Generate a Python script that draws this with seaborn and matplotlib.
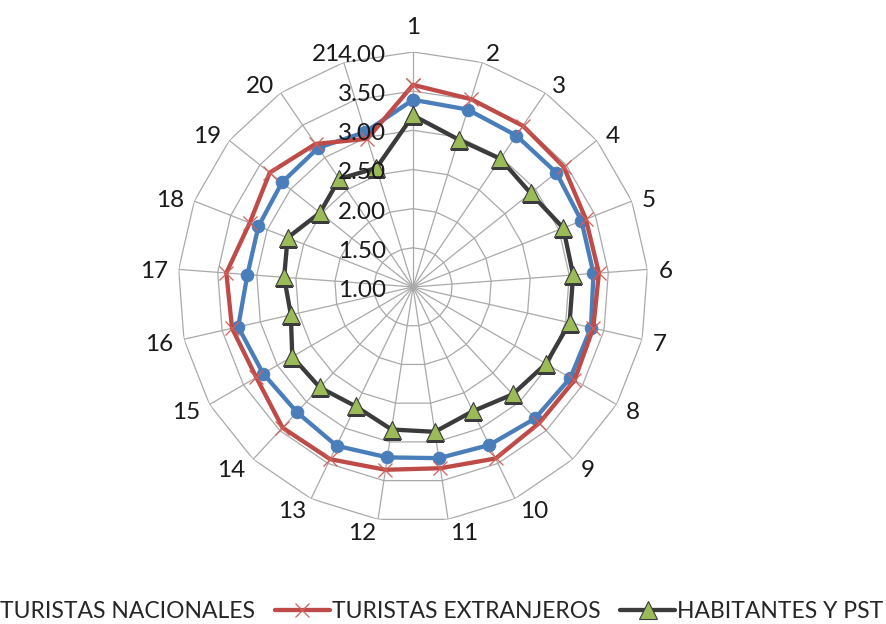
import numpy as np
import pandas as pd
import matplotlib
matplotlib.use("Agg")
import matplotlib.pyplot as plt
import seaborn as sns

categories = [str(i) for i in range(1, 22)]
nacionales = [3.39, 3.37, 3.34, 3.34, 3.31, 3.31, 3.33, 3.32, 3.29, 3.24, 3.21,
              3.20, 3.25, 3.18, 3.21, 3.29, 3.12, 3.12, 3.14, 3.15, 3.07]
extranjeros = [3.58, 3.51, 3.49, 3.46, 3.37, 3.38, 3.36, 3.38, 3.37, 3.43, 3.34,
               3.36, 3.44, 3.45, 3.31, 3.37, 3.39, 3.24, 3.34, 3.21, 2.98]
habitantes = [3.19, 2.97, 2.98, 2.92, 3.06, 3.05, 3.05, 2.96, 2.87, 2.76, 2.87,
              2.84, 2.69, 2.75, 2.78, 2.60, 2.65, 2.72, 2.52, 2.67, 2.59]
series_names = ["TURISTAS NACIONALES", "TURISTAS EXTRANJEROS", "HABITANTES Y PST"]
radial_ticks = [1.0, 1.5, 2.0, 2.5, 3.0, 3.5, 4.0]
radial_labels = ["1.00", "1.50", "2.00", "2.50", "3.00", "3.50", "4.00"]

sns.set_theme(style="white")
plt.rcParams["font.family"] = ["Lato", "DejaVu Sans"]

FS = 17.5
FS_LEG = 16.5
PX = 72 / 100  # pixels -> points
fig = plt.figure(figsize=(8.87, 6.24), dpi=100)
ax = fig.add_axes([0.2007, 0.1635, 0.5299, 0.7532], projection="polar")
ax.set_theta_zero_location("N")
ax.set_theta_direction(-1)
ax.set_ylim(radial_ticks[0], radial_ticks[-1])
ax.grid(False)
ax.spines["polar"].set_visible(False)
ax.set_xticks([])
ax.set_yticks([])
ax.set_facecolor("none")

n = len(categories)
theta = np.linspace(0, 2 * np.pi, n, endpoint=False)
theta_closed = np.append(theta, 2 * np.pi)

grid_color = "#a9a9a9"
for v in radial_ticks[1:]:
    ax.plot(theta_closed, [v] * (n + 1), color=grid_color, lw=0.9, zorder=0)
for t in theta:
    ax.plot([t, t], [radial_ticks[0], radial_ticks[-1]], color=grid_color, lw=0.9, zorder=0)

def closed(vals):
    return list(vals) + [vals[0]]

styles = [
    dict(color="#4a7ebb", marker="o", markersize=9, markeredgecolor="#4a7ebb", lw=3.1),
    dict(color="#be4b48", marker="x", markersize=10, markeredgewidth=0.9,
         markeredgecolor="#d0605c", lw=3.1),
    dict(color="#3b3b3b", marker="^", markersize=12.5, markerfacecolor="#9bbb59",
         markeredgecolor="#3b3b3b", markeredgewidth=0.8, lw=3.1),
]
for name, vals, st in zip(series_names, [nacionales, extranjeros, habitantes], styles):
    df = pd.DataFrame({"theta": theta_closed, "valor": closed(vals)})
    sns.lineplot(data=df, x="theta", y="valor", ax=ax, sort=False, label=name, zorder=3, **st)

ax.set_xlabel("")
ax.set_ylabel("")
handles, labels = ax.get_legend_handles_labels()
if ax.get_legend() is not None:
    ax.get_legend().remove()

# category labels: anchored outside the outer ring, Excel-like
R_LAB = 246
for t, c in zip(theta, categories):
    s, co = np.sin(t), np.cos(t)
    if abs(s) < 0.05:
        ha = "center"
        dy = 262 if co > 0 else -R_LAB
    else:
        ha = "left" if s > 0 else "right"
        dy = R_LAB * co
    ax.annotate(c, xy=(0, radial_ticks[0]), xytext=(R_LAB * s * PX, (dy - 3) * PX),
                textcoords="offset points", ha=ha, va="center", fontsize=FS,
                color="#1a1a1a", annotation_clip=False)

for v, lbl in zip(radial_ticks, radial_labels):
    ax.annotate(lbl, xy=(0, v), xytext=(-19.5, -2.5), textcoords="offset points",
                ha="right", va="center", fontsize=FS, color="#1a1a1a", annotation_clip=False)

fig.legend(handles, labels, loc="center", bbox_to_anchor=(0.466, 1 - 612 / 624), ncol=3,
           frameon=False, fontsize=FS_LEG, handlelength=2.4, handletextpad=0.1,
           columnspacing=0.85)

fig.savefig("out.png", dpi=100)
